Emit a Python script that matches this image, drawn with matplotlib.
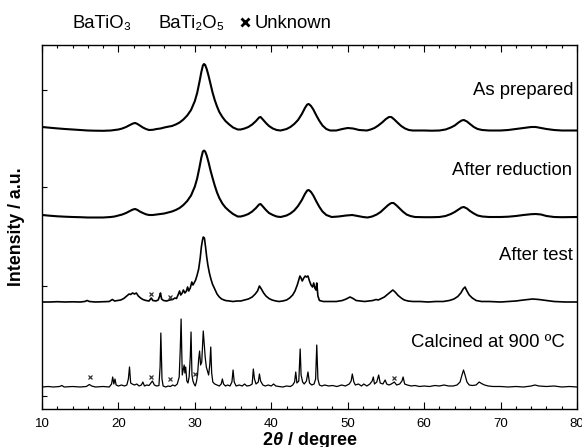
import matplotlib
matplotlib.use("Agg")
import matplotlib.pyplot as plt
from matplotlib.ticker import MultipleLocator, FixedLocator
from matplotlib.lines import Line2D

plt.rcParams['font.family'] = ['Liberation Sans', 'DejaVu Sans']
plt.rcParams['mathtext.fontset'] = 'custom'
plt.rcParams['mathtext.it'] = 'Liberation Sans:italic:bold'
plt.rcParams['mathtext.rm'] = 'Liberation Sans:bold'

# ---------------- data (2theta in degree, intensity above own baseline, a.u.) -------------
prep = [(10, 4), (11, 3.3), (12, 2.6), (13, 2), (14, 1.5), (15, 1), (16, 0.5), (17, 0.3), (18, 0.2),
        (19, 0.5), (19.5, 1), (20, 1.5), (20.5, 2.5), (21, 4), (21.5, 6), (21.9, 7.5), (22.2, 8),
        (22.5, 7), (22.8, 5.5), (23.2, 3.5), (23.6, 2), (24, 1), (24.5, 1.2), (25, 2), (25.5, 2.5),
        (26, 3.5), (26.5, 4.3), (27, 5), (27.5, 6.5), (28, 8.5), (28.5, 11.5), (29, 15.5), (29.5, 21),
        (30, 30), (30.3, 38), (30.6, 49), (30.85, 59), (31.05, 65.5), (31.2, 67), (31.35, 66),
        (31.55, 62), (31.8, 55), (32.05, 47), (32.3, 39), (32.6, 31), (32.9, 24.5), (33.2, 19),
        (33.6, 14), (34, 10), (34.5, 6.5), (35, 3.5), (35.6, 1.5), (36, 1.5), (36.5, 2.5), (37, 4),
        (37.5, 6.5), (38, 10), (38.4, 13.5), (38.6, 14), (38.9, 11.5), (39.3, 8), (39.7, 5),
        (40.2, 2.5), (40.7, 1), (41.2, 0.5), (41.5, 1), (42, 2), (42.5, 4), (43, 7), (43.5, 11),
        (44, 17), (44.4, 23), (44.7, 26.5), (44.9, 27), (45.2, 25), (45.5, 21.5), (45.9, 15.5),
        (46.3, 10), (46.7, 5.5), (47.2, 2), (47.7, 0.5), (48.5, 0.5), (49.3, 2), (50, 3), (50.7, 2.5),
        (51.5, 1), (52.5, 0.5), (53, 1.5), (53.5, 3), (54, 5.5), (54.5, 8.5), (55, 12), (55.4, 14),
        (55.7, 14), (56.1, 11.5), (56.5, 8.5), (57, 5), (57.5, 2.5), (58, 1), (58.5, 0.5), (60, 0.5),
        (61, 0.3), (62, 0.5), (62.8, 1.5), (63.5, 3.5), (64, 5.5), (64.5, 8.5), (64.9, 10.5),
        (65.2, 11), (65.6, 9.5), (66, 7), (66.5, 4), (67, 2), (67.6, 1), (68.5, 0.5), (70, 0.5),
        (71, 1), (72, 2), (73, 3), (74, 4), (74.6, 4), (75.3, 3), (76, 2), (77, 1), (78, 0.5), (80, 0.5)]

red = [(10, 2.5), (11, 1.8), (12, 1.2), (13, 0.8), (14, 0.5), (15, 0.3), (16, 0), (17, 0), (18, 0),
       (19, 0.5), (19.5, 1), (20, 2), (20.5, 3), (21, 4.5), (21.5, 6.5), (21.9, 8), (22.2, 8.5),
       (22.5, 7.5), (22.8, 6), (23.2, 4.5), (23.6, 3.2), (24, 2.5), (24.5, 2.5), (25, 3), (25.5, 3.5),
       (26, 4), (26.5, 5), (27, 6), (27.5, 7.5), (28, 9.5), (28.5, 12.5), (29, 16.5), (29.5, 22),
       (30, 31), (30.3, 39), (30.6, 50), (30.85, 60), (31.05, 66), (31.2, 67), (31.35, 66),
       (31.55, 62), (31.8, 55), (32.05, 47), (32.3, 40), (32.6, 32), (32.9, 25), (33.2, 19.5),
       (33.6, 14), (34, 10), (34.5, 6.5), (35, 3.5), (35.6, 1), (36, 1), (36.5, 2), (37, 3.5),
       (37.5, 6), (38, 9.5), (38.4, 13), (38.6, 13.5), (38.9, 11), (39.3, 7.5), (39.7, 4.5),
       (40.2, 2.5), (40.7, 1), (41.2, 0.5), (41.5, 1), (42, 2), (42.5, 4), (43, 7), (43.5, 11.5),
       (44, 17.5), (44.4, 23.5), (44.7, 27), (44.9, 27.5), (45.2, 25.5), (45.5, 22), (45.9, 16),
       (46.3, 10.5), (46.7, 6), (47.2, 2.5), (47.9, 0.5), (48.8, 1), (49.8, 2), (50.6, 2.5),
       (51.3, 1.5), (52, 0.5), (52.6, 0), (53.2, 1), (53.8, 3), (54.3, 5.5), (54.8, 9), (55.3, 12.5),
       (55.7, 14.5), (56, 14.5), (56.4, 12), (56.8, 9), (57.2, 6), (57.7, 3), (58.2, 1.5), (58.8, 0.5),
       (60, 0.3), (61, 0.3), (62, 0.5), (62.8, 1.5), (63.5, 3.5), (64, 5.5), (64.5, 8), (64.9, 10),
       (65.2, 10.5), (65.6, 9), (66, 6.5), (66.5, 4), (67, 2), (67.6, 1), (68.5, 0.5), (70, 0.5),
       (71, 0.8), (72, 1.5), (73, 2.5), (74, 3.3), (74.6, 3.5), (75.3, 3), (76, 1.5), (77, 0.5),
       (78, 0.3), (80, 0.5)]

test = [(10, 0), (11, 0), (12, 0.3), (13, 0), (14, 0.2), (15, 0), (15.6, 0.5), (15.9, 1.5), (16.2, 0.5),
        (17, 0), (18, 0.3), (18.8, 0.5), (19.2, 2.5), (19.5, 1), (19.9, 1.5), (20.3, 2), (20.7, 3.5),
        (21.1, 6), (21.4, 8), (21.6, 7.5), (21.85, 9), (22.1, 8), (22.35, 9), (22.6, 6), (22.9, 4),
        (23.2, 2.5), (23.6, 1.5), (24, 1), (24.3, 4), (24.5, 1.5), (24.9, 1), (25.2, 2), (25.4, 6),
        (25.5, 9), (25.65, 3), (25.9, 1.5), (26.3, 1), (26.7, 2), (27.1, 2.5), (27.4, 4), (27.6, 3.5),
        (27.85, 8), (28, 11), (28.15, 7), (28.35, 9), (28.5, 12), (28.7, 9), (28.9, 11), (29.05, 15),
        (29.2, 11), (29.4, 14), (29.6, 20), (29.75, 17), (29.9, 19), (30.1, 22), (30.3, 27),
        (30.5, 33), (30.7, 44), (30.85, 55), (31.0, 62), (31.1, 65), (31.25, 64), (31.4, 55),
        (31.55, 45), (31.7, 37), (31.9, 29), (32.1, 23), (32.3, 18), (32.6, 13), (32.9, 8), (33.2, 5),
        (33.5, 3), (34, 1.5), (34.5, 1), (35, 0.5), (35.5, 1), (36, 1), (36.5, 2), (37, 3), (37.5, 5),
        (37.9, 8), (38.2, 11), (38.45, 16), (38.7, 13), (39, 9), (39.3, 6), (39.7, 3.5), (40.1, 2),
        (40.6, 1), (41, 0.5), (41.5, 1), (42, 2), (42.4, 4), (42.8, 7), (43.1, 11), (43.4, 17),
        (43.6, 22), (43.75, 26), (43.9, 24), (44.05, 21), (44.25, 24), (44.45, 26), (44.6, 25),
        (44.8, 26), (45, 21), (45.2, 17), (45.4, 15), (45.55, 19), (45.7, 14), (45.85, 12),
        (45.95, 19), (46.1, 6), (46.3, 1.5), (46.8, 0.5), (47.5, 0.5), (48.5, 0.5), (49.3, 1.5),
        (49.8, 3), (50.3, 5), (50.7, 3.5), (51.1, 1.5), (51.6, 1), (52.2, 0.5), (52.8, 1), (53.3, 1.5),
        (53.7, 2.5), (54, 2), (54.4, 3.5), (54.8, 5), (55.2, 7.5), (55.6, 10), (55.9, 12), (56.2, 10),
        (56.6, 6.5), (57, 4), (57.4, 2), (57.9, 1), (58.5, 0.5), (59.5, 0.5), (60.5, 0), (61.5, 0.5),
        (62.5, 0.5), (63.3, 1.5), (63.9, 3), (64.4, 5.5), (64.8, 9), (65.1, 13), (65.35, 15),
        (65.6, 11), (65.9, 7), (66.3, 4), (66.8, 1.5), (67.5, 0.5), (68.5, 0.5), (70, 0), (71, 0.5),
        (72, 1), (73, 2), (74.2, 3), (75, 2.5), (76, 1.5), (77, 0.5), (78.5, 0), (80, 0)]

calc = [(10, 0), (10.8, 0.5), (11.5, 0), (12.3, 0.5), (12.6, 1.5), (12.9, 0), (14, 0.5), (15, 0),
        (15.8, 0.5), (16.2, 2.5), (16.5, 1), (17, 0), (18, 0.5), (18.8, 0), (19.1, 3), (19.25, 10),
        (19.4, 3), (19.55, 8), (19.7, 2), (20, 1), (20.4, 2), (20.8, 1), (21.1, 2), (21.3, 8),
        (21.45, 20), (21.6, 4), (21.8, 3), (22.1, 2), (22.4, 3), (22.7, 1), (23, 2), (23.2, 5),
        (23.4, 1), (23.7, 2), (24, 1.5), (24.25, 4), (24.45, 6), (24.7, 2), (25, 1), (25.3, 1.5),
        (25.45, 20), (25.55, 54), (25.7, 8), (25.85, 1), (26.2, 0), (26.5, 1), (26.8, 0.5), (27.1, 2),
        (27.4, 1), (27.7, 3), (27.95, 10), (28.1, 40), (28.2, 68), (28.35, 12), (28.5, 18), (28.6, 22),
        (28.7, 14), (28.8, 20), (28.95, 6), (29.1, 4), (29.25, 10), (29.4, 30), (29.5, 55),
        (29.62, 12), (29.75, 6), (29.9, 3), (30.05, 1), (30.2, 5), (30.35, 12), (30.5, 28),
        (30.62, 36), (30.75, 22), (30.9, 25), (31.0, 40), (31.1, 56), (31.22, 44), (31.35, 30),
        (31.5, 20), (31.65, 16), (31.8, 12), (31.95, 22), (32.08, 40), (32.2, 14), (32.35, 5),
        (32.6, 3), (32.9, 2), (33.2, 1), (33.45, 3), (33.6, 8), (33.75, 3), (34, 1), (34.3, 2),
        (34.6, 1), (34.85, 5), (35.0, 17), (35.15, 5), (35.4, 1), (35.8, 2), (36.2, 1), (36.5, 3),
        (36.8, 1), (37.2, 1.5), (37.5, 3), (37.65, 18), (37.8, 8), (38, 3), (38.3, 5), (38.45, 13),
        (38.6, 6), (38.9, 2), (39.2, 1), (39.6, 2), (40, 1), (40.3, 3), (40.6, 1), (41, 0.5),
        (41.5, 0), (42, 1), (42.5, 0.5), (42.8, 2), (43.05, 5), (43.2, 15), (43.35, 4), (43.6, 6),
        (43.78, 38), (43.9, 12), (44.1, 5), (44.3, 3), (44.6, 6), (44.8, 15), (45, 4), (45.3, 2),
        (45.6, 3), (45.8, 8), (45.95, 42), (46.1, 8), (46.3, 2), (46.6, 1), (47, 2), (47.5, 1),
        (48, 1.5), (48.6, 0.5), (49.2, 2), (49.7, 1), (50.2, 3), (50.45, 6), (50.6, 13), (50.8, 5),
        (51, 2), (51.4, 3), (51.8, 1), (52.1, 3), (52.5, 1), (52.9, 3), (53.2, 6), (53.35, 10),
        (53.5, 3), (53.8, 5), (54.05, 12), (54.25, 4), (54.6, 3), (54.9, 7), (55.1, 3), (55.4, 2),
        (55.7, 3), (56.1, 5), (56.4, 2), (56.8, 3), (57.1, 6), (57.25, 10), (57.45, 3), (57.8, 2),
        (58.3, 1), (58.8, 1.5), (59.4, 0.5), (60, 1), (60.7, 0.5), (61.4, 1.5), (62, 1), (62.6, 2),
        (63.2, 1), (63.8, 1), (64.3, 2), (64.7, 5), (64.95, 12), (65.15, 17), (65.35, 12), (65.6, 5),
        (65.9, 2), (66.3, 1.5), (66.8, 2), (67.2, 5), (67.5, 3.5), (67.9, 2), (68.4, 1), (69, 0.5),
        (70, 0.5), (71, 0), (72, 0.5), (73, 0), (74, 1), (74.5, 2), (75, 1), (76, 0.5), (77, 1),
        (78, 0), (79, 0.5), (80, 0)]

# baselines (stacking offsets) and unknown-phase marks
offsets = [278, 191.5, 107, 22]
unk_test_x = [24.3, 26.8]
unk_test_y = [115, 112]
unk_calc_x = [16.3, 24.3, 26.8, 30.0, 56.1]
unk_calc_y = [32, 32, 30, 35, 31]

labels = ["As prepared", "After reduction", "After test", "Calcined at 900 \u00baC"]
label_x = [79.5, 79.4, 79.4, 78.4]
label_y = [314, 234, 149, 62]

# ---------------- figure -------------
fig = plt.figure(figsize=(5.82, 4.47), dpi=100)
ax = fig.add_axes([42 / 582, 38 / 447, 535 / 582, 364 / 447])

series = [(prep, 1.5), (red, 1.5), (test, 1.2), (calc, 0.9)]
for (pts, lw), off in zip(series, offsets):
    xs = [p[0] for p in pts]
    ys = [p[1] + off for p in pts]
    ax.plot(xs, ys, color='black', lw=lw, solid_joinstyle='round')

ax.plot(unk_test_x, unk_test_y, ls='none', marker='x', ms=3.5, mew=0.9, color='#333333')
ax.plot(unk_calc_x, unk_calc_y, ls='none', marker='x', ms=3.5, mew=0.9, color='#333333')

for t, x, y in zip(labels, label_x, label_y):
    ax.text(x, y, t, ha='right', va='baseline', fontsize=13.3)

ax.set_xlim(10, 80)
ax.set_ylim(0, 364)
ax.xaxis.set_major_locator(MultipleLocator(10))
ax.xaxis.set_minor_locator(MultipleLocator(2))
ax.yaxis.set_major_locator(FixedLocator([319, 222, 123, 13]))
ax.tick_params(axis='x', which='major', direction='in', length=5, width=0.8, top=True,
               labelsize=9.5, pad=6.5)
ax.tick_params(axis='x', which='minor', direction='in', length=2.5, width=0.8, top=True)
ax.tick_params(axis='y', which='major', direction='in', length=3.5, width=0.8, left=True,
               right=False, labelleft=False)
for s in ax.spines.values():
    s.set_linewidth(1.0)

ax.set_xlabel('2$\\theta$ / degree', fontsize=13, fontweight='bold', labelpad=0)
ax.set_ylabel('Intensity / a.u.', fontsize=12.8, fontweight='bold', labelpad=12)

# legend line above the axes
fig.text(73 / 582, 1 - 28 / 447, 'BaTiO\u2083', fontsize=13.3, va='baseline', ha='left')
fig.text(159 / 582, 1 - 28 / 447, 'BaTi\u2082O\u2085', fontsize=13.3, va='baseline', ha='left')
fig.lines.append(Line2D([245 / 582], [1 - 22 / 447], ls='none', marker='x',
                        ms=6, mew=2, color='black', transform=fig.transFigure))
fig.text(255 / 582, 1 - 28 / 447, 'Unknown', fontsize=13.3, va='baseline', ha='left')

fig.savefig('out.png', dpi=100)
